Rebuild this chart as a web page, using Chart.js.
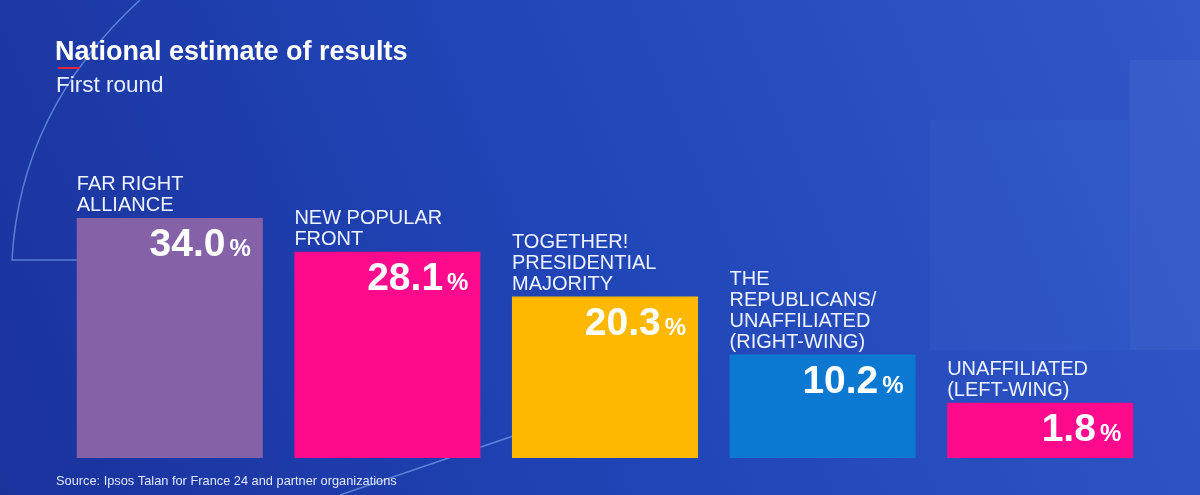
<!DOCTYPE html>
<html>
<head>
<meta charset="utf-8">
<script src="https://cdn.jsdelivr.net/npm/chart.js@4.4.1/dist/chart.umd.min.js"></script>
<style>
  html, body { margin: 0; padding: 0; background: #1d3fae; }
  #wrap { width: 1200px; height: 495px; position: relative; }
</style>
</head>
<body>
<div id="wrap"><canvas id="resultsChart"></canvas></div>
<script>
// chart values
const categories = [
  ["FAR RIGHT", "ALLIANCE"],
  ["NEW POPULAR", "FRONT"],
  ["TOGETHER!", "PRESIDENTIAL", "MAJORITY"],
  ["THE", "REPUBLICANS/", "UNAFFILIATED", "(RIGHT-WING)"],
  ["UNAFFILIATED", "(LEFT-WING)"]
];
const values = [34.0, 28.1, 20.3, 10.2, 1.8];
const barColors = ["#8562a8", "#ff0a8c", "#ffb800", "#0b78d2", "#ff0a8c"];

const titleText = "National estimate of results";
const subtitleText = "First round";
const sourceText = "Source: Ipsos Talan for France 24 and partner organizations";

const FONT = "'Liberation Sans', Arial, sans-serif";

// background + decorations
const backdrop = {
  id: 'backdrop',
  beforeDraw(chart) {
    const ctx = chart.ctx;
    const w = chart.width, h = chart.height;
    ctx.save();
    const g = ctx.createLinearGradient(0, h, w, 0);
    g.addColorStop(0, '#1a329c');
    g.addColorStop(0.5, '#2146b8');
    g.addColorStop(1, '#3157c8');
    ctx.fillStyle = g;
    ctx.fillRect(0, 0, w, h);

    // soft lighter panels on the right
    ctx.fillStyle = 'rgba(120,160,240,0.12)';
    ctx.fillRect(1130, 60, 70, 290);
    ctx.fillStyle = 'rgba(120,160,240,0.07)';
    ctx.fillRect(930, 120, 200, 230);

    // thin arc + line on the left
    ctx.strokeStyle = 'rgba(140,185,255,0.55)';
    ctx.lineWidth = 1.5;
    ctx.beginPath();
    ctx.moveTo(140, 0);
    ctx.quadraticCurveTo(20, 110, 12, 260);
    ctx.lineTo(77, 260);
    ctx.stroke();

    // thin diagonal near bottom
    ctx.beginPath();
    ctx.moveTo(610, 350);
    ctx.lineTo(560, 420);
    ctx.lineTo(340, 495);
    ctx.stroke();
    ctx.restore();
  }
};

// texts: title, labels above bars, values inside bars, source
const textLayer = {
  id: 'textLayer',
  afterDatasetsDraw(chart) {
    const ctx = chart.ctx;
    const meta = chart.getDatasetMeta(0);
    ctx.save();

    ctx.fillStyle = '#ffffff';
    ctx.textAlign = 'left';
    ctx.textBaseline = 'alphabetic';
    ctx.font = 'bold 27px ' + FONT;
    ctx.fillText(titleText, 55, 60);
    ctx.fillStyle = '#e9efff';
    ctx.font = '22.5px ' + FONT;
    ctx.fillText(subtitleText, 56, 92);

    // small red underline under the "N"
    ctx.fillStyle = '#e0263a';
    ctx.fillRect(58, 67, 22, 2);

    meta.data.forEach((bar, i) => {
      const left = bar.x - bar.width / 2;
      const right = bar.x + bar.width / 2;
      const top = bar.y;

      // category label lines above bar
      const lines = categories[i];
      ctx.fillStyle = '#eef3ff';
      ctx.font = '20px ' + FONT;
      ctx.textAlign = 'left';
      const lh = 21;
      lines.forEach((ln, j) => {
        const y = top - 7 - (lines.length - 1 - j) * lh;
        ctx.fillText(ln, left, y);
      });

      // value inside bar, right aligned
      ctx.fillStyle = '#ffffff';
      ctx.textAlign = 'right';
      ctx.font = 'bold 24px ' + FONT;
      const pctRight = right - 12;
      ctx.fillText('%', pctRight, top + 38);
      const pctW = ctx.measureText('%').width;
      ctx.font = 'bold 39px ' + FONT;
      ctx.fillText(values[i].toFixed(1), pctRight - pctW - 4, top + 38);
    });

    ctx.textAlign = 'left';
    ctx.fillStyle = '#dfe7fb';
    ctx.font = '12.8px ' + FONT;
    ctx.fillText(sourceText, 56, 485);
    ctx.restore();
  }
};

const ctx = document.getElementById('resultsChart').getContext('2d');
new Chart(ctx, {
  type: 'bar',
  data: {
    labels: categories,
    datasets: [{
      data: values,
      backgroundColor: barColors,
      borderWidth: 0,
      base: -7.8,
      barPercentage: 0.855,
      categoryPercentage: 1.0
    }]
  },
  options: {
    responsive: true,
    maintainAspectRatio: false,
    animation: false,
    layout: { padding: { left: 61, right: 51, top: 126, bottom: 37 } },
    plugins: {
      legend: { display: false },
      tooltip: { enabled: false }
    },
    scales: {
      x: { display: false },
      y: { display: false, min: -7.8, max: 50 }
    }
  },
  plugins: [backdrop, textLayer]
});
</script>
</body>
</html>
